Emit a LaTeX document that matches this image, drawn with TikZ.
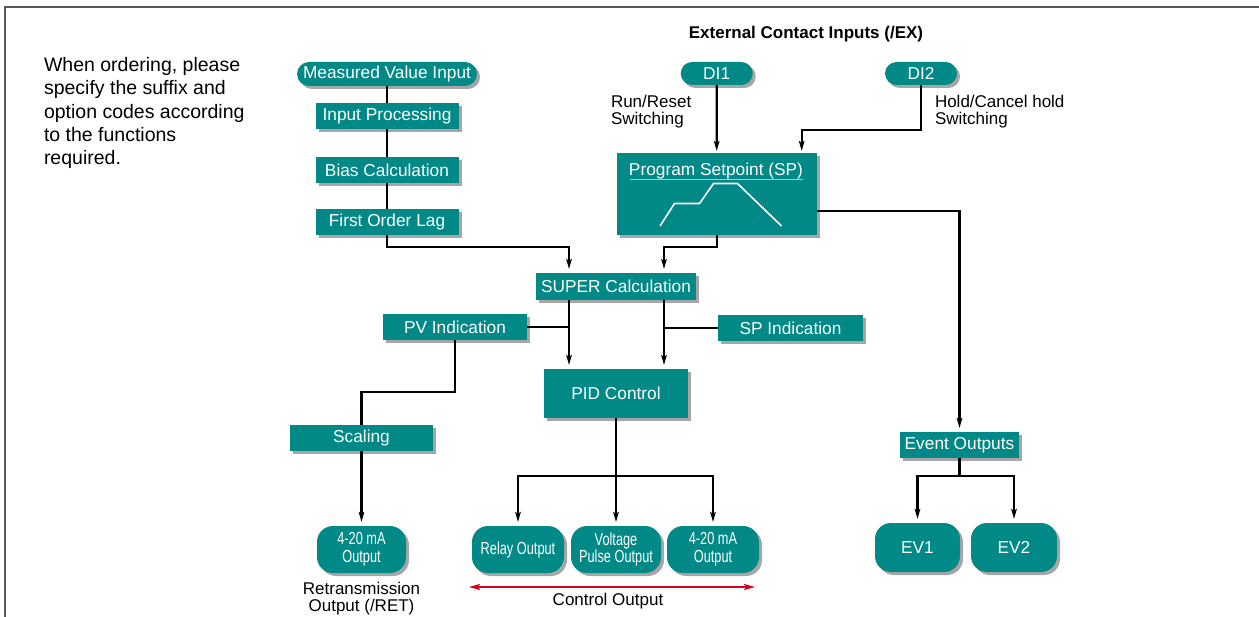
\documentclass[tikz,border=0pt]{standalone}
\usepackage{fontspec}
\setmainfont{Liberation Sans}
\newfontfamily\narrowfont[FakeStretch=0.73]{Liberation Sans}
\usepackage{tikz}
\usetikzlibrary{shapes,positioning,shadows}
\usetikzlibrary{arrows.meta,
                shapes.misc}
\definecolor{boxteal}{RGB}{0,137,134}
\definecolor{ctrlred}{RGB}{214,0,32}

\begin{document}
\begin{tikzpicture}[x=1pt, y=-1pt,
  every node/.style = {inner sep=0pt, outer sep=0pt},
  sz/.style 2 args = {minimum width=#1pt, minimum height=#2pt},
  blockbox/.style = {fill=boxteal, text=white,
      font=\fontsize{17.3}{19}\selectfont,
      drop shadow={shadow xshift=3pt, shadow yshift=-3pt,
      fill=black!35, opacity=1}},
  pill/.style = {blockbox, rounded rectangle},
  outbox/.style = {blockbox, rounded corners=16pt, align=center,
      font=\narrowfont\fontsize{17.5}{17.7}\selectfont},
  conn/.style = {draw, line width=2.3pt},
  arr/.style = {conn, shorten >=4pt,
      -{Stealth[length=10pt, width=5.5pt, inset=2pt]}},
  note/.style = {font=\fontsize{17}{16.7}\selectfont, align=left}
  ]
  \useasboundingbox (0,0) rectangle (1259,617);
  \draw[line width=1.5pt, black!65] (1259,7) -- (5,7) -- (5,617);
  %
  \node[note, font=\fontsize{19.5}{23.3}\selectfont, anchor=north west]
    (order) at (44,57.5) {When ordering, please\\specify the suffix and\\
    option codes according\\to the functions\\required.};
  \node[font=\bfseries\fontsize{17}{19}\selectfont, anchor=base]
    (exttitle) at (806,39) {External Contact Inputs (/EX)};
  % measured value chain
  \node[pill, sz={180}{24}] (mvi) at (387,74) {Measured Value Input};
  \node[blockbox, sz={143}{26}] (inproc) at (387,116) {Input Processing};
  \node[blockbox, sz={143}{26}] (bias) at (387,170) {Bias Calculation};
  \node[blockbox, sz={143}{26}] (lag) at (387,222) {First Order Lag};
  % setpoint side
  \node[pill, sz={72}{23}] (di1) at (716.7,73.5) {DI1};
  \node[pill, sz={72}{23}] (di2) at (921,73.5) {DI2};
  \node[note, anchor=north west] (runlbl) at (611,95.5) {Run/Reset\\Switching};
  \node[note, anchor=north west] (holdlbl) at (935,95.5) {Hold/Cancel hold\\Switching};
  \node[blockbox, sz={200}{82}] (prog) at (716.7,194) {};
  \node[text=white, font=\fontsize{17.3}{19}\selectfont, anchor=base]
    (progtitle) at (716,176) {Program Setpoint (SP)};
  \draw[boxteal!40!white, line width=0.6pt] (630,179.5) -- (803,179.5);
  \draw[white, line width=1.6pt] (660,226) -- (674.5,203.5) -- (699.5,203.5)
    -- (713.5,183.5) -- (737.5,183.5) -- (781.5,226);
  % control part
  \node[blockbox, sz={160}{27}] (super) at (616,286.5) {SUPER Calculation};
  \node[blockbox, sz={144}{26}] (pvind) at (455,327) {PV Indication};
  \node[blockbox, sz={145}{26}] (spind) at (790.5,328) {SP Indication};
  \node[blockbox, sz={144}{49}] (pid) at (616,393.5) {PID Control};
  \node[blockbox, sz={143}{26}] (scaling) at (361.5,438) {Scaling};
  \node[outbox, sz={89}{47}] (retout) at (361.5,549.5) {4-20 mA\\Output};
  \node[outbox, sz={92}{47}] (relay) at (518,549.5) {Relay Output};
  \node[outbox, sz={90}{47}] (pulse) at (616,549.5) {Voltage\\Pulse Output};
  \node[outbox, sz={92}{47}] (maout) at (713,549.5) {4-20 mA\\Output};
  \node[blockbox, sz={119}{26}] (event) at (959.5,445) {Event Outputs};
  \node[outbox, sz={85}{49}, font=\fontsize{17.3}{19}\selectfont]
    (ev1) at (917.5,547.5) {EV1};
  \node[outbox, sz={86}{49}, font=\fontsize{17.3}{19}\selectfont]
    (ev2) at (1014,547.5) {EV2};
  \node[note, align=center, anchor=north] (retlbl) at (361.5,582.5)
    {Retransmission\\Output (/RET)};
  \node[note, anchor=north] (ctltext) at (608,593) {Control Output};
  %
  \draw[conn] (mvi) -- (inproc) (inproc) -- (bias) (bias) -- (lag);
  \draw[arr] (lag.south) -- ++(0,12) -| ([xshift=-47pt]super.north);
  \draw[arr] (prog.south) -- ++(0,12) -| ([xshift=48pt]super.north);
  \draw[arr] ([xshift=-47pt]super.south) -- ([xshift=-47pt]pid.north);
  \draw[arr] ([xshift=48pt]super.south) -- ([xshift=48pt]pid.north);
  \draw[conn] (pvind.east) -- ([xshift=-47pt]super.south |- pvind.east);
  \draw[conn] (spind.west) -- ([xshift=48pt]super.south |- spind.west);
  \draw[conn] (pvind.south) -- ++(0,52) -| (scaling.north);
  \draw[arr] (scaling) -- (retout);
  \draw[conn] (pid.south) -- ++(0,58) coordinate (pidjoin);
  \draw[arr] (pidjoin) -| (relay.north);
  \draw[arr] (pidjoin) -| (maout.north);
  \draw[arr] (pidjoin) -- (pulse.north);
  \draw[arr, shorten >=2pt] (di1) -- (prog);
  \draw[arr, shorten >=2pt] (di2.south) -- ++(0,45) -| ([xshift=85pt]prog.north);
  \draw[arr] ([yshift=-17pt]prog.east) -| (event.north);
  \draw[conn] (event.south) -- ++(0,18) coordinate (evjoin);
  \draw[arr] (evjoin) -| (ev1.north);
  \draw[arr] (evjoin) -| (ev2.north);
  %
  \coordinate (ctlleft) at (469,587);
  \coordinate (ctlright) at (755,587);
  \draw[ctrlred, line width=1.5pt,
    {Stealth[length=11pt, width=6pt, inset=2pt]}-{Stealth[length=11pt, width=6pt, inset=2pt]}]
    (ctlleft) -- (ctlright);
\end{tikzpicture}
\end{document}
